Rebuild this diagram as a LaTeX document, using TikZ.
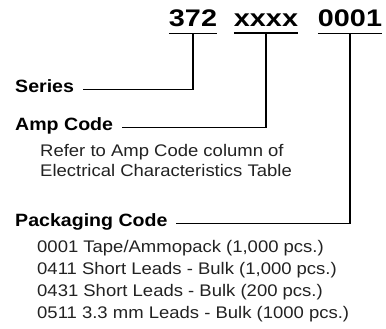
\documentclass[tikz,border=0pt]{standalone}
\usepackage{fontspec}
\setmainfont{Liberation Sans}[FakeStretch=1.1]
\newfontfamily\codefont{Liberation Sans}[FakeStretch=1.2]
\usepackage{tikz}
\definecolor{PNInk}{HTML}{000000}
\definecolor{PNText}{HTML}{222222}

\begin{document}
\begin{tikzpicture}[x=1pt,y=1pt,
  code/.style={anchor=base,inner xsep=0pt,inner ysep=0pt,font=\codefont\bfseries\fontsize{24}{28}\selectfont},
  field/.style={anchor=base west,inner sep=0pt,text height=0.72em,text depth=0pt,font=\bfseries\fontsize{17.8}{22}\selectfont},
  note/.style={anchor=base west,inner sep=0pt,text=PNText,font=\fontsize{16.8}{20}\selectfont},
  uline/.style={PNInk,line width=1.8pt},
  lead/.style={PNInk,line width=1.4pt}]
\path[use as bounding box] (0,0) rectangle (386,329);
\node[code] (c372) at (193,302) {372};
\node[code] (cxxxx) at (266,302) {xxxx};
\node[code] (c0001) at (350,302) {0001};
\draw[uline] ([yshift=-6pt]c372.south west) -- ([yshift=-6pt]c372.south east);
\draw[uline] ([yshift=-6pt]cxxxx.south west) -- ([yshift=-6pt]cxxxx.south east);
\draw[uline] ([yshift=-6pt]c0001.south west) -- ([yshift=-6pt]c0001.south east);
\node[field] (series) at (15,236) {Series};
\node[field] (amp) at (15,198) {Amp Code};
\node[note] (ampnote1) at (40,172) {Refer to Amp Code column of};
\node[note] (ampnote2) at (40,152) {Electrical Characteristics Table};
\node[field] (pack) at (15,102) {Packaging Code};
\node[note] (pack1) at (37,76) {0001 Tape/Ammopack (1,000 pcs.)};
\node[note] (pack2) at (37,54) {0411 Short Leads - Bulk (1,000 pcs.)};
\node[note] (pack3) at (37,32) {0431 Short Leads - Bulk (200 pcs.)};
\node[note] (pack4) at (37,10) {0511 3.3 mm Leads - Bulk (1000 pcs.)};
\draw[lead] ([yshift=-6pt]c372.south) |- ([xshift=9pt]series.east);
\draw[lead] ([yshift=-6pt]cxxxx.south) |- ([xshift=9pt]amp.east);
\draw[lead] ([yshift=-6pt]c0001.south) |- ([xshift=8pt]pack.east);
\end{tikzpicture}
\end{document}
